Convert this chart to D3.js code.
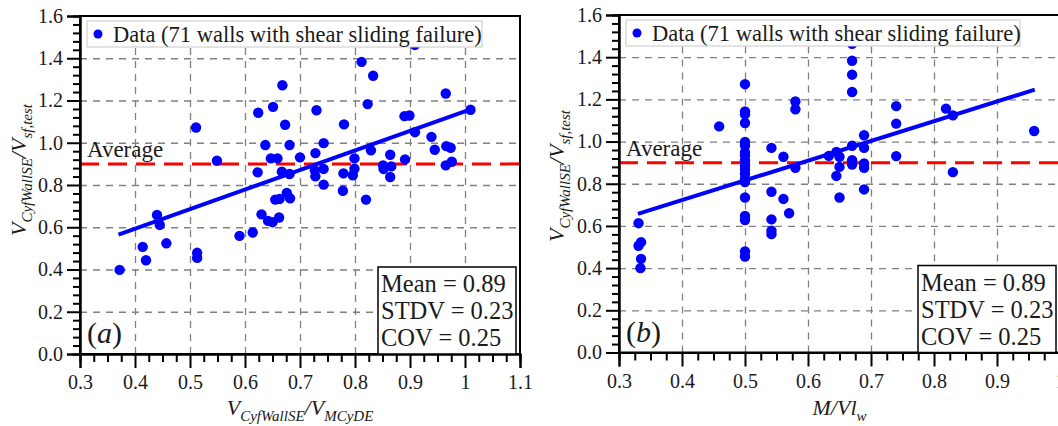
<!DOCTYPE html>
<html>
<head>
<meta charset="utf-8">
<title>Shear sliding walls</title>
<script src="https://d3js.org/d3.v7.min.js"></script>
<style>
    body { margin: 0; background: #fff; }
    svg { font-family: "Liberation Serif", "Times New Roman", serif; }
    .grid line { stroke: #808080; stroke-width: 1.3; stroke-dasharray: 7, 6; }
    .grid path { display: none; }
    .axis path, .axis line { stroke: #000; stroke-width: 2; }
    .axis text { font-size: 20px; fill: #1a1a1a; font-family: "Liberation Serif", serif; }
</style>
</head>
<body>
<svg width="1058" height="426"></svg>
<script>
    // panel (a): V_CyfWallSE / V_MCyDE  vs  ratio
    var aX = [0.511, 0.549, 0.624, 0.637, 0.651, 0.647, 0.659, 0.668, 0.673, 0.681,
              0.623, 0.667, 0.681, 0.700, 0.728, 0.730, 0.743, 0.727, 0.728, 0.743,
              0.743, 0.780, 0.779, 0.778, 0.799, 0.799, 0.796, 0.812, 0.833, 0.823,
              0.829, 0.820, 0.851, 0.852, 0.864, 0.866, 0.864, 0.891, 0.890, 0.899,
              0.909, 0.909, 0.939, 0.945, 0.965, 0.966, 0.974, 0.976, 0.965, 1.010,
              0.372, 0.414, 0.420, 0.440, 0.445, 0.457, 0.513, 0.513, 0.590, 0.614,
              0.630, 0.642, 0.650, 0.662, 0.655, 0.663, 0.676, 0.682];
    var aY = [1.072, 0.915, 1.142, 0.989, 1.170, 0.926, 0.926, 1.272, 1.085, 0.989,
              0.860, 0.863, 0.852, 0.931, 0.951, 1.154, 0.998, 0.869, 0.841, 0.876,
              0.802, 1.087, 0.855, 0.773, 0.926, 0.877, 0.846, 1.383, 1.317, 1.183,
              0.964, 0.731, 0.893, 0.876, 0.943, 0.888, 0.838, 0.921, 1.126, 1.129,
              1.050, 1.463, 1.028, 0.967, 1.233, 0.984, 0.976, 0.910, 0.893, 1.156,
              0.398, 0.507, 0.444, 0.658, 0.611, 0.524, 0.479, 0.455, 0.559, 0.575,
              0.661, 0.630, 0.624, 0.646, 0.731, 0.734, 0.762, 0.737];

    // panel (b): ratio vs M/Vl_w
    var bX = [0.331, 0.331, 0.335, 0.335, 0.334, 0.459,
              0.5, 0.5, 0.5, 0.5, 0.5, 0.5, 0.5, 0.5, 0.5, 0.5, 0.5, 0.5, 0.5, 0.5, 0.5, 0.5, 0.5, 0.5, 0.5,
              0.542, 0.542, 0.542, 0.542, 0.542, 0.561, 0.561, 0.570, 0.580, 0.580, 0.580,
              0.633, 0.645, 0.645, 0.650, 0.650, 0.650,
              0.670, 0.670, 0.670, 0.670, 0.670, 0.670, 0.670,
              0.689, 0.689, 0.689, 0.689, 0.689, 0.740, 0.740, 0.740,
              0.819, 0.830, 0.830, 0.959];
    var bY = [0.613, 0.506, 0.523, 0.444, 0.400, 1.072,
              1.272, 1.143, 1.129, 1.088, 0.998, 0.981, 0.950, 0.934, 0.910, 0.887, 0.867, 0.848, 0.824, 0.808, 0.735, 0.647, 0.628, 0.479, 0.455,
              0.970, 0.762, 0.631, 0.578, 0.561, 0.928, 0.728, 0.660, 1.190, 1.153, 0.876,
              0.932, 0.951, 0.837, 0.928, 0.880, 0.735,
              1.463, 1.383, 1.317, 1.235, 0.980, 0.912, 0.891,
              1.030, 0.970, 0.896, 0.876, 0.773, 1.168, 1.085, 0.931,
              1.156, 1.124, 0.855, 1.050];

    // trend lines (end points)
    var fitAX = [0.37, 1.01], fitAY = [0.565, 1.158];
    var fitBX = [0.33, 0.96], fitBY = [0.657, 1.246];

    var average = 0.9;
    var yTicks = [0, 0.2, 0.4, 0.6, 0.8, 1.0, 1.2, 1.4, 1.6];
    var xTicksA = [0.3, 0.4, 0.5, 0.6, 0.7, 0.8, 0.9, 1.0, 1.1];
    var xTicksB = [0.3, 0.4, 0.5, 0.6, 0.7, 0.8, 0.9, 1.0];
    var statLines = ["Mean = 0.89", "STDV = 0.23", "COV = 0.25"];
    var legendLabel = "Data (71 walls with shear sliding failure)";

    var svg = d3.select("svg");

    function mathText(sel, parts) {
        // parts: [text, isSubscript]
        var prevSub = false;
        parts.forEach(function (p) {
            var t = sel.append("tspan").text(p[0]).style("font-style", "italic");
            if (p[1]) t.attr("font-size", "15px");
            if (p[1] && !prevSub) t.attr("dy", 6);
            if (!p[1] && prevSub) t.attr("dy", -6);
            prevSub = p[1];
        });
    }

    function panel(o) {
        var g = svg.append("g");
        var x = d3.scaleLinear().domain([o.xTicks[0], o.xTicks[o.xTicks.length - 1]]).range([o.left, o.right]);
        var y = d3.scaleLinear().domain([0, 1.6]).range([o.bottom, o.top]);
        var w = o.right - o.left, h = o.bottom - o.top;

        g.append("g").attr("class", "grid").attr("transform", "translate(0," + o.bottom + ")")
            .call(d3.axisBottom(x).tickValues(o.xTicks.slice(1, -1)).tickSize(-h).tickFormat(""));
        g.append("g").attr("class", "grid").attr("transform", "translate(" + o.left + ",0)")
            .call(d3.axisLeft(y).tickValues(yTicks.slice(1, -1)).tickSize(-w).tickFormat(""));

        g.append("line")
            .attr("x1", o.left).attr("x2", o.right)
            .attr("y1", y(average)).attr("y2", y(average))
            .attr("stroke", "#ff0000").attr("stroke-width", 3)
            .attr("stroke-dasharray", "19,9");

        g.selectAll("circle.pt")
            .data(d3.zip(o.xs, o.ys))
            .join("circle").attr("class", "pt")
            .attr("cx", function (d) { return x(d[0]); })
            .attr("cy", function (d) { return y(d[1]); })
            .attr("r", 5.2)
            .attr("fill", "#0000ff");

        g.append("path")
            .datum(d3.zip(o.fx, o.fy))
            .attr("d", d3.line().x(function (d) { return x(d[0]); }).y(function (d) { return y(d[1]); }))
            .attr("fill", "none").attr("stroke", "#0000ff").attr("stroke-width", 4);

        // frame
        g.append("rect").attr("x", o.left).attr("y", o.top).attr("width", w).attr("height", h)
            .attr("fill", "none").attr("stroke", "#000").attr("stroke-width", 2);

        // minor ticks
        var xMinor = d3.range(o.xTicks[0], o.xTicks[o.xTicks.length - 1] + 0.001, 0.025)
            .filter(function (v) { return Math.abs(v * 10 - Math.round(v * 10)) > 0.01; });
        var yMinor = d3.range(0, 1.601, 0.04)
            .filter(function (v) { return Math.abs(v * 5 - Math.round(v * 5)) > 0.01; });
        g.append("g").attr("class", "axis").attr("transform", "translate(0," + o.bottom + ")")
            .call(d3.axisBottom(x).tickValues(xMinor).tickSize(8).tickFormat(""));
        g.append("g").attr("class", "axis").attr("transform", "translate(" + o.left + ",0)")
            .call(d3.axisLeft(y).tickValues(yMinor).tickSize(7).tickFormat(""));

        // major ticks
        g.append("g").attr("class", "axis").attr("transform", "translate(0," + o.bottom + ")")
            .call(d3.axisBottom(x).tickValues(o.xTicks).tickSize(14).tickPadding(7)
                .tickFormat(function (d) { return Math.abs(d - 1) < 1e-9 ? "1" : d3.format(".1f")(d); }));
        g.append("g").attr("class", "axis").attr("transform", "translate(" + o.left + ",0)")
            .call(d3.axisLeft(y).tickValues(yTicks).tickSize(13).tickPadding(4).tickFormat(d3.format(".1f")));

        // legend
        g.append("rect").attr("x", o.left + 7).attr("y", o.top + 5).attr("width", o.legW).attr("height", 26)
            .attr("fill", "#fff").attr("stroke", "#c8c8c8").attr("stroke-width", 1);
        g.append("circle").attr("cx", o.left + 18).attr("cy", o.top + 18).attr("r", 4.5).attr("fill", "#0000ff");
        g.append("text").attr("x", o.left + 33).attr("y", o.top + 25.5)
            .attr("font-size", "22.5px").attr("fill", "#1a1a1a").text(legendLabel);

        // average label
        g.append("text").attr("x", o.left + 7).attr("y", y(average) - 7)
            .attr("font-size", "23px").attr("fill", "#1a1a1a").text("Average");

        // panel letter
        var pl = g.append("text").attr("x", o.left + 7).attr("y", o.bottom - 11)
            .attr("font-size", "30px").attr("fill", "#1a1a1a");
        pl.append("tspan").text("(");
        pl.append("tspan").style("font-style", "italic").text(o.letter);
        pl.append("tspan").text(")");

        // stats box
        g.append("rect").attr("x", o.statX).attr("y", o.bottom - 87).attr("width", o.right - 4 - o.statX).attr("height", 87)
            .attr("fill", "#fff").attr("stroke", "#000").attr("stroke-width", 1.5);
        g.selectAll("text.stat").data(statLines).join("text").attr("class", "stat")
            .attr("x", o.statX + 3)
            .attr("y", function (d, i) { return o.bottom - 62 + i * 27; })
            .attr("font-size", "24.5px").attr("fill", "#1a1a1a")
            .text(function (d) { return d; });

        // axis titles
        var xt = g.append("text").attr("x", (o.left + o.right) / 2).attr("y", 415)
            .attr("text-anchor", "middle").attr("font-size", "22px").attr("fill", "#1a1a1a");
        mathText(xt, o.xTitle);
        var yt = g.append("text").attr("transform", "translate(" + o.yTitleX + "," + o.yTitleY + ") rotate(-90)")
            .attr("text-anchor", "middle").attr("font-size", "22px").attr("fill", "#1a1a1a");
        mathText(yt, [["V", false], ["CyfWallSE", true], ["/", false], ["V", false], ["sf,test", true]]);
    }

    panel({
        left: 80, right: 520, top: 16, bottom: 354,
        xTicks: xTicksA, xs: aX, ys: aY, fx: fitAX, fy: fitAY,
        legW: 395, statX: 378, letter: "a",
        yTitleX: 26, yTitleY: 170,
        xTitle: [["V", false], ["CyfWallSE", true], ["/", false], ["V", false], ["MCyDE", true]]
    });
    panel({
        left: 619, right: 1060, top: 15, bottom: 352.5,
        xTicks: xTicksB, xs: bX, ys: bY, fx: fitBX, fy: fitBY,
        legW: 394, statX: 918, letter: "b",
        yTitleX: 564, yTitleY: 176,
        xTitle: [["M", false], ["/", false], ["V", false], ["l", false], ["w", true]]
    });
</script>
</body>
</html>
